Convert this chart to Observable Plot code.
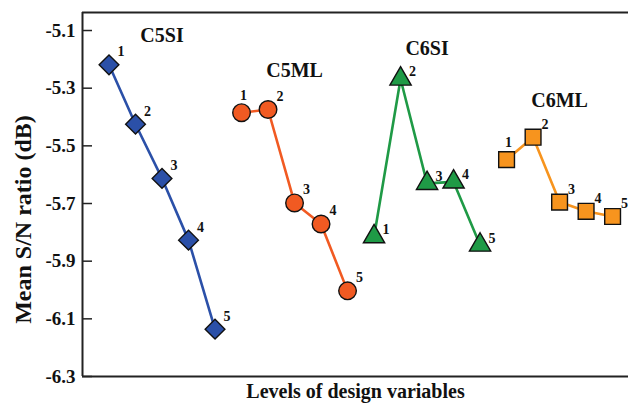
<!DOCTYPE html>
<html>
<head>
<meta charset="utf-8">
<script src="https://cdn.jsdelivr.net/npm/d3@7"></script>
<script src="https://cdn.jsdelivr.net/npm/@observablehq/plot@0.6"></script>
<style>
  html, body { margin: 0; padding: 0; background: #fff; }
  #chart svg { display: block; }
</style>
</head>
<body>
<div id="chart"></div>
<script>
// ---- data ----
const seriesNames = ["C5SI", "C5ML", "C6SI", "C6ML"];
const levels = [1, 2, 3, 4, 5];
const c5si = [-5.219, -5.425, -5.613, -5.827, -6.136];
const c5ml = [-5.385, -5.374, -5.698, -5.771, -6.003];
const c6si = [-5.815, -5.268, -5.630, -5.625, -5.844];
const c6ml = [-5.548, -5.470, -5.695, -5.727, -5.745];
const groupLabelY = [-5.117, -5.239, -5.1625, -5.343];
const yTicks = [-5.1, -5.3, -5.5, -5.7, -5.9, -6.1, -6.3];
const yDomain = [-6.3, -5.0375];
const xDomain = [0, 20.6];

const seriesValues = [c5si, c5ml, c6si, c6ml];
const colors = ["#2b50a8", "#f15a22", "#1f9a46", "#f7941e"];
const symbols = ["diamond2", "circle", "triangle", "square"];
const radii = [8.9, 8.8, 7.9, 8.9];

const rows = [];
seriesNames.forEach((s, g) => {
  levels.forEach((lv, j) => {
    rows.push({series: s, g, level: lv, idx: g * 5 + lv, value: seriesValues[g][j]});
  });
});
const groupRows = seriesNames.map((s, g) => ({series: s, idx: g * 5 + 3, y: groupLabelY[g]}));

const serif = "'Liberation Serif', 'Times New Roman', serif";
const W = 628, H = 403, ML = 82, MR = 0, MT = 12, MB = 27;

const dotMarks = seriesNames.map((s, g) =>
  Plot.dot(rows.filter(d => d.g === g), {
    x: "idx", y: "value", symbol: () => symbols[g], r: radii[g],
    fill: colors[g], stroke: "#111", strokeWidth: 1.4
  })
);

function labelOffset(d) {
  if (d.g === 2) return [12, -7];
  if ((d.g === 1 || d.g === 3) && d.level === 1) return [2, -17];
  return [12, -13];
}

const plot = Plot.plot({
  width: W, height: H,
  marginLeft: ML, marginRight: MR, marginTop: MT, marginBottom: MB,
  x: {domain: xDomain, axis: null},
  y: {domain: yDomain, axis: null},
  symbol: {type: "identity"},
  style: {fontFamily: serif, background: "#fff"},
  marks: [
    Plot.axisY({ticks: yTicks, tickSize: 0, tickPadding: 7, tickFormat: d => d.toFixed(1),
      fontSize: 19, fontWeight: "bold", fill: "#111", label: null}),
    Plot.tickY(yTicks, {y: d => d, insetRight: W - ML - MR - 10, stroke: "#222", strokeWidth: 1.5}),
    Plot.ruleX([xDomain[0]], {stroke: "#222", strokeWidth: 2}),
    Plot.ruleY(yDomain, {stroke: "#222", strokeWidth: 2}),
    ...seriesNames.map((s, g) =>
      Plot.line(rows.filter(d => d.g === g), {x: "idx", y: "value", stroke: colors[g], strokeWidth: 2.6})
    ),
    ...dotMarks,
    ...rows.map(d => {
      const [dx, dy] = labelOffset(d);
      return Plot.text([d], {x: "idx", y: "value", text: d => String(d.level), dx, dy,
        fontSize: 14, fontWeight: "bold", fill: "#111"});
    }),
    Plot.text(groupRows, {x: "idx", y: "y", text: "series",
      fontSize: 20, fontWeight: "bold", fill: "#111"}),
    Plot.text(["Levels of design variables"], {frameAnchor: "bottom", dy: 15,
      fontSize: 20, fontWeight: "bold", fill: "#111", lineAnchor: "middle"}),
    Plot.text(["Mean S/N ratio (dB)"], {frameAnchor: "left", textAnchor: "middle", dx: -59, dy: 25, rotate: -90,
      fontSize: 24, fontWeight: "bold", fill: "#111", lineAnchor: "middle"})
  ]
});
document.getElementById("chart").appendChild(plot);
</script>
</body>
</html>
